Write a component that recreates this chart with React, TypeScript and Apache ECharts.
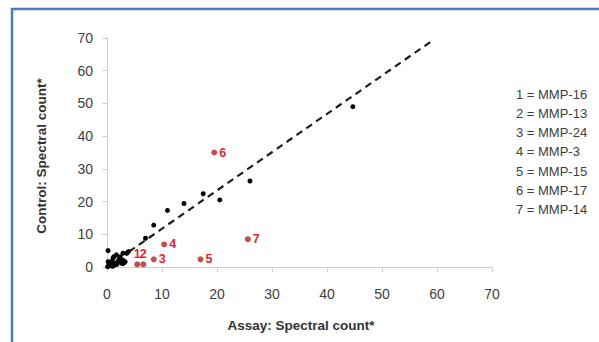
import React, { useEffect, useRef } from "react";
import * as echarts from "echarts";

const blackX = [26.0, 20.5, 17.5, 14.0, 11.0, 8.5, 7.0, 44.7, 0.2, 0.2, 0.5, 0.8, 0.3, 0.6, 1.0, 1.2, 1.1, 1.7, 2.0, 2.4, 2.7, 2.9, 2.9, 3.3, 3.6, 3.9, 1.5, 1.3, 0.1, 0.4, 2.2, 1.8, 0.9, 3.0];
const blackY = [26.3, 20.5, 22.4, 19.4, 17.3, 12.8, 8.8, 49.0, 5.0, 1.6, 0.6, 0.6, 0.3, 1.0, 0.2, 3.1, 2.7, 3.7, 1.6, 3.1, 1.1, 4.2, 2.1, 1.6, 4.2, 4.7, 1.2, 0.5, 0.1, 1.2, 2.4, 0.8, 1.8, 1.1];

const redX = [5.5, 6.6, 8.5, 10.4, 17.0, 19.5, 25.6];
const redY = [0.8, 0.8, 2.35, 6.9, 2.35, 35.0, 8.5];
const redLabels = ["1", "2", "3", "4", "5", "6", "7"];

const trendX = [4, 58.9];
const trendSlope = 1.17;

const legendLines = ["1 = MMP-16", "2 = MMP-13", "3 = MMP-24", "4 = MMP-3", "5 = MMP-15", "6 = MMP-17", "7 = MMP-14"];

const ticks = [0, 10, 20, 30, 40, 50, 60, 70];

export default function App() {
  const ref = useRef<HTMLDivElement>(null);
  useEffect(() => {
    const chart = echarts.init(ref.current!, null, { renderer: "svg" });
    const font = "'Liberation Sans', Arial, sans-serif";
    const axisCommon = {
      min: ticks[0],
      max: ticks[ticks.length - 1],
      interval: 10,
      splitLine: { show: false },
      axisLine: { show: true, lineStyle: { color: "#d0d0d0", width: 1 } },
      axisTick: { show: true, length: 5, lineStyle: { color: "#d0d0d0" } },
    };
    chart.setOption({
      animation: false,
      backgroundColor: "#ffffff",
      grid: { left: 107, top: 38, width: 385, height: 229 },
      xAxis: {
        type: "value",
        ...axisCommon,
        axisLabel: { margin: 20, fontSize: 14, color: "#404040", fontFamily: font },
      },
      yAxis: {
        type: "value",
        ...axisCommon,
        axisLabel: { margin: 14, fontSize: 14, color: "#404040", fontFamily: font },
      },
      series: [
        {
          type: "line",
          data: trendX.map((x) => [x, x * trendSlope]),
          symbol: "none",
          lineStyle: { color: "#1f1f1f", width: 2.2, type: [7, 5] },
          z: 1,
        },
        {
          type: "scatter",
          data: blackX.map((x, i) => [x, blackY[i]]),
          symbolSize: 5,
          itemStyle: { color: "#000000", opacity: 1 },
          z: 3,
        },
        {
          type: "scatter",
          data: redX.map((x, i) => ({
            value: [x, redY[i]],
            label: {
              show: true,
              formatter: redLabels[i],
              position: i < 2 ? "top" : "right",
              distance: i < 2 ? 1 : 2,
            },
          })),
          symbolSize: 6,
          itemStyle: { color: "#c0504d", opacity: 1 },
          label: { color: "#e0262c", fontWeight: "bold", fontSize: 12.5, fontFamily: font },
          z: 4,
        },
      ],
      graphic: [
        {
          type: "rect",
          shape: { x: 12, y: 9, width: 620, height: 360 },
          style: { fill: "none", stroke: "#4a7ebb", lineWidth: 2.5 },
          silent: true,
        },
        {
          type: "text",
          x: 301,
          y: 325,
          style: {
            text: "Assay: Spectral count*",
            fontSize: 13.5,
            fontWeight: "bold",
            fontFamily: font,
            fill: "#333333",
            align: "center",
            verticalAlign: "middle",
          },
        },
        {
          type: "text",
          x: 41,
          y: 156,
          rotation: Math.PI / 2,
          style: {
            text: "Control: Spectral count*",
            fontSize: 13.5,
            fontWeight: "bold",
            fontFamily: font,
            fill: "#333333",
            align: "center",
            verticalAlign: "middle",
          },
        },
        ...legendLines.map((t, i) => ({
          type: "text",
          x: 516,
          y: 94 + i * 19.3,
          style: {
            text: t,
            fontSize: 13,
            fontFamily: font,
            fill: "#404040",
            align: "left",
            verticalAlign: "middle",
          },
        })),
      ],
    });
    return () => chart.dispose();
  }, []);
  return (
    <div
      ref={ref}
      style={{ position: "fixed", left: 0, top: 0, width: 599, height: 342 }}
    />
  );
}
